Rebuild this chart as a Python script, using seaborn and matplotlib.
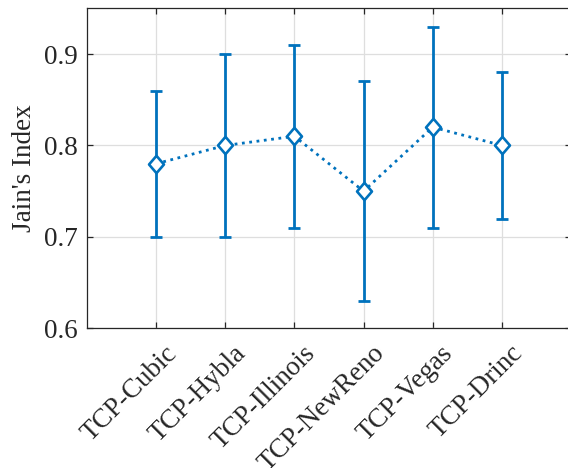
import matplotlib
matplotlib.use("Agg")
import matplotlib.pyplot as plt
import matplotlib.transforms as mtransforms
import seaborn as sns
import pandas as pd
import numpy as np

categories = ["TCP-Cubic", "TCP-Hybla", "TCP-Illinois", "TCP-NewReno", "TCP-Vegas", "TCP-Drinc"]
means = [0.78, 0.80, 0.81, 0.75, 0.82, 0.80]
lower = [0.70, 0.70, 0.71, 0.63, 0.71, 0.72]
upper = [0.86, 0.90, 0.91, 0.87, 0.93, 0.88]
yticks = [0.6, 0.7, 0.8, 0.9]

sns.set_theme(style="white")
plt.rcParams['font.family'] = ['Liberation Serif', 'DejaVu Serif']

blue = "#0072BD"
dark = "#262626"

df = pd.DataFrame({"protocol": categories, "jain": means})

fig = plt.figure(figsize=(5.68, 4.68), dpi=100)
ax = fig.add_axes([87/568, (468-328.3)/468, (571-87)/568, (328.3-8.3)/468])

diamond = [(0, 1), (0.86, 0), (0, -1), (-0.86, 0), (0, 1)]

sns.lineplot(data=df, x="protocol", y="jain", ax=ax, color=blue, linestyle=":",
             linewidth=2.0, marker=None, sort=False, zorder=2)

xpos = np.arange(len(categories))
yerr = np.array([np.array(means) - np.array(lower), np.array(upper) - np.array(means)])
ax.errorbar(xpos, means, yerr=yerr, fmt="none", ecolor=blue, elinewidth=2.0,
            capsize=4.5, capthick=2.0, zorder=3)
ax.plot(xpos, means, linestyle="none", marker=diamond, markersize=12.5,
        markerfacecolor="white", markeredgecolor=blue, markeredgewidth=1.9, zorder=4)

ax.set_xlim(-1, 6)
ax.set_ylim(0.6, 0.95)
ax.set_yticks(yticks)
ax.set_yticklabels([f"{v:.1f}" for v in yticks])
ax.set_xticks(xpos)
ax.set_xticklabels([])
label_tf = ax.get_xaxis_transform() + mtransforms.ScaledTranslation(8/100, -12.5/100, fig.dpi_scale_trans)
for x, name in zip(xpos, categories):
    ax.text(x, 0, name, transform=label_tf, rotation=45, ha="right", va="top",
            rotation_mode="anchor", fontsize=19.5, color=dark, clip_on=False)
ax.set_xlabel("")
ax.set_ylabel("Jain's Index", fontsize=19.5, color=dark, labelpad=5)

ax.grid(True, color="#dedede", linewidth=0.9)
ax.set_axisbelow(True)
for side in ["left", "bottom", "top", "right"]:
    ax.spines[side].set_visible(True)
    ax.spines[side].set_color(dark)
    ax.spines[side].set_linewidth(0.9)

ax.tick_params(axis="both", direction="in", length=4, width=0.9, color=dark,
               labelsize=19.5, labelcolor=dark, top=True, right=True, left=True, bottom=True)
ax.tick_params(axis="y", pad=7)

fig.savefig("out.png", dpi=100)
